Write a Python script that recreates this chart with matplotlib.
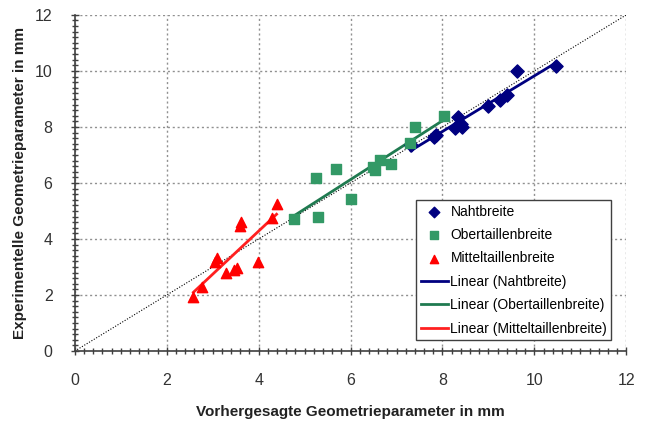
import numpy as np
import matplotlib
matplotlib.use("Agg")
import matplotlib.pyplot as plt
from matplotlib.ticker import MultipleLocator

plt.rcParams['font.family'] = ['Liberation Sans', 'DejaVu Sans']

# Nahtbreite (blue diamonds)
naht_x = [7.31, 7.82, 7.87, 8.27, 8.34, 8.42, 8.40, 8.99, 9.25, 9.40, 9.63, 10.46]
naht_y = [7.36, 7.63, 7.71, 7.95, 8.37, 8.01, 8.12, 8.75, 8.96, 9.14, 9.98, 10.18]

# Obertaillenbreite (green squares)
ober_x = [4.78, 5.30, 5.24, 5.68, 6.01, 6.49, 6.53, 6.65, 6.88, 7.29, 7.40, 8.04]
ober_y = [4.70, 4.80, 6.19, 6.49, 5.42, 6.58, 6.46, 6.82, 6.68, 7.42, 8.01, 8.39]

# Mitteltaillenbreite (red triangles)
mitte_x = [2.58, 2.76, 3.05, 3.10, 3.29, 3.47, 3.52, 3.60, 3.62, 3.98, 4.28, 4.39]
mitte_y = [1.94, 2.27, 3.19, 3.33, 2.77, 2.89, 2.98, 4.45, 4.60, 3.19, 4.74, 5.25]

fig = plt.figure(figsize=(6.45, 4.25), dpi=100)
ax = fig.add_axes([0.116, 0.174, 0.855, 0.791])

# diagonal reference line
ax.plot([0, 12], [0, 12], color='black', linestyle=(0, (1, 1.5)), linewidth=0.8, zorder=2)

ax.scatter(naht_x, naht_y, marker='D', s=45, color='#000080', label='Nahtbreite', zorder=4)
ax.scatter(ober_x, ober_y, marker='s', s=45, color='#339966', label='Obertaillenbreite', zorder=4)
ax.scatter(mitte_x, mitte_y, marker='^', s=55, color='#ff0000', label='Mitteltaillenbreite', zorder=4)

# linear trend lines
for xs, ys, col, name in [(naht_x, naht_y, '#000080', 'Nahtbreite'),
                          (ober_x, ober_y, '#1f7a50', 'Obertaillenbreite'),
                          (mitte_x, mitte_y, '#ff2020', 'Mitteltaillenbreite')]:
    k, d = np.polyfit(xs, ys, 1)
    xx = np.array([min(xs), max(xs)])
    ax.plot(xx, k * xx + d, color=col, linewidth=2, label='Linear (' + name + ')', zorder=3)

ax.set_xlim(0, 12)
ax.set_ylim(0, 12)
ax.xaxis.set_major_locator(MultipleLocator(2))
ax.yaxis.set_major_locator(MultipleLocator(2))
ax.xaxis.set_minor_locator(MultipleLocator(0.2))
ax.yaxis.set_minor_locator(MultipleLocator(0.2))
ax.grid(True, which='major', color='#909090', linestyle=(0, (1.5, 2)), linewidth=1)
ax.set_axisbelow(True)

for s in ['top', 'right']:
    ax.spines[s].set_visible(False)
for s in ['left', 'bottom']:
    ax.spines[s].set_color('#404040')
    ax.spines[s].set_linewidth(1.2)

ax.tick_params(which='major', direction='inout', length=6, width=1, color='#404040',
               labelsize=11.5, labelcolor='#333333', pad=13)
ax.tick_params(which='minor', direction='inout', length=4, width=1, color='#404040')

ax.set_xlabel('Vorhergesagte Geometrieparameter in mm', fontsize=11, fontweight='bold',
              color='#222222', labelpad=12)
ax.set_ylabel('Experimentelle Geometrieparameter in mm', fontsize=11, fontweight='bold',
              color='#222222', labelpad=6)

leg = ax.legend(loc='lower right', bbox_to_anchor=(0.973, 0.033), borderaxespad=0,
                fontsize=10, frameon=True, fancybox=False, edgecolor='#404040', framealpha=1,
                handlelength=1.95, handletextpad=0.2, borderpad=0.3, labelspacing=0.68,
                markerscale=0.8, scatterpoints=1)
leg.get_frame().set_linewidth(1)

fig.savefig('out.png', dpi=100)
